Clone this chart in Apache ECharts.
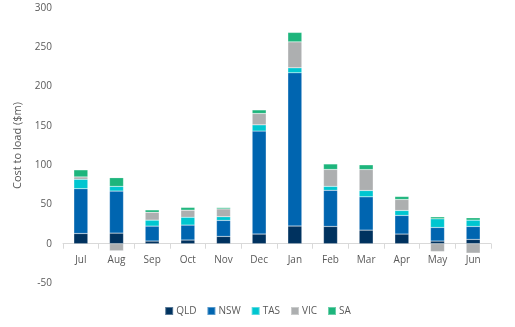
<!DOCTYPE html>
<html>
<head>
<meta charset="utf-8">
<script src="https://cdn.jsdelivr.net/npm/echarts@6/dist/echarts.min.js"></script>
<style>
  html, body { margin: 0; padding: 0; background: #ffffff; }
  #chart { width: 515px; height: 327px; }
</style>
</head>
<body>
<div id="chart"></div>
<script>
// Monthly cost to load by region ($m)
const months = ['Jul', 'Aug', 'Sep', 'Oct', 'Nov', 'Dec', 'Jan', 'Feb', 'Mar', 'Apr', 'May', 'Jun'];
const qld = [13, 13.5, 3.4, 4.7, 9.3, 12.3, 22.5, 22, 17.3, 12.3, 3.4, 5.5];
const nsw = [57, 53.5, 19, 19, 20.4, 131, 195, 46, 42.4, 23.7, 17.3, 16.5];
const tas = [12, 6, 7.6, 10, 4.6, 8, 6.4, 5, 8, 6.3, 11, 8];
const vic = [3, -9, 10, 9, 10, 14.5, 33, 21.5, 26.7, 14, -10, -12];
const sa = [9, 11, 3, 3.5, 1.7, 4.5, 12, 7, 6, 3.8, 2.5, 3];
const yTicks = { min: -50, max: 300, interval: 50 };

const regions = [
  { name: 'QLD', data: qld, color: '#00325F' },
  { name: 'NSW', data: nsw, color: '#0065B0' },
  { name: 'TAS', data: tas, color: '#00C6D0' },
  { name: 'VIC', data: vic, color: '#ADAFB0' },
  { name: 'SA', data: sa, color: '#1DB57C' }
];

const chart = echarts.init(document.getElementById('chart'), null, { renderer: 'canvas' });

chart.setOption({
  animation: false,
  textStyle: { fontFamily: '"Open Sans", "Liberation Sans", sans-serif' },
  grid: { left: 63, right: 24, top: 8, bottom: 44, containLabel: false },
  legend: {
    bottom: 6,
    left: 'center',
    itemWidth: 8,
    itemHeight: 8,
    itemGap: 10,
    icon: 'rect',
    textStyle: { color: '#595959', fontSize: 10, padding: [0, 0, 0, -2] },
    data: regions.map(r => r.name)
  },
  xAxis: {
    type: 'category',
    data: months,
    axisLine: { onZero: true, lineStyle: { color: '#D9D9D9' } },
    axisTick: { show: true, length: 5, lineStyle: { color: '#D9D9D9' } },
    // month labels sit just under the zero line, above the negative range
    axisLabel: { color: '#595959', fontSize: 10, margin: -28 }
  },
  yAxis: {
    type: 'value',
    min: yTicks.min,
    max: yTicks.max,
    interval: yTicks.interval,
    name: 'Cost to load ($m)',
    nameLocation: 'middle',
    nameGap: 40,
    nameTextStyle: { color: '#595959', fontSize: 11 },
    axisLine: { show: false },
    axisTick: { show: false },
    splitLine: { show: false },
    axisLabel: { color: '#595959', fontSize: 10, margin: 11 }
  },
  series: regions.map(r => ({
    name: r.name,
    type: 'bar',
    stack: 'total',
    data: r.data,
    barWidth: 14,
    itemStyle: { color: r.color, borderColor: 'rgba(255,255,255,0.35)', borderWidth: 0.5 }
  }))
});
</script>
</body>
</html>
